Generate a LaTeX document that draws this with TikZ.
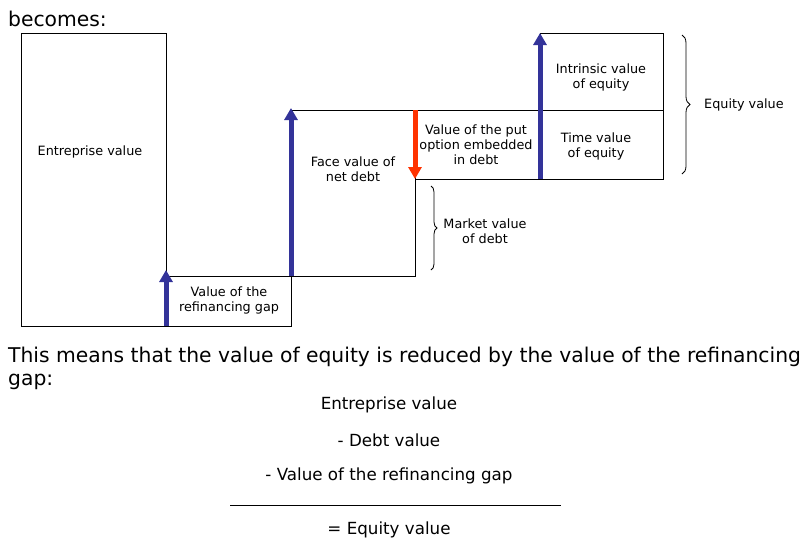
\documentclass[tikz,border=0pt]{standalone}
\usepackage{fontspec}
\setmainfont{DejaVu Sans}
\usetikzlibrary{positioning,arrows.meta,decorations.pathreplacing}
\definecolor{gainblue}{RGB}{51,51,153}
\definecolor{lossred}{RGB}{255,51,0}
\tikzset{
  valuebox/.style={draw=black, line width=1pt, anchor=north west, inner sep=0pt, outer sep=0pt},
  boxtext/.style={align=center, inner sep=0pt, font=\fontsize{12.8}{15}\selectfont},
  bigtext/.style={anchor=west, inner sep=0pt, font=\fontsize{20.3}{24}\selectfont},
  sumtext/.style={inner sep=0pt, font=\fontsize{16.7}{20}\selectfont},
  rise/.style={draw=gainblue, line width=5pt, -{Triangle[width=13pt,length=12pt]}},
  fall/.style={draw=lossred, line width=5pt, -{Triangle[width=13pt,length=12pt]}},
  curly/.style={decorate, decoration={brace, amplitude=#1}, line width=0.8pt},
}
\begin{document}
\begin{tikzpicture}[x=1pt,y=-1pt]
\useasboundingbox (0,0) rectangle (812,550);
% the blocks
\node[valuebox, minimum width=145pt, minimum height=293pt] (entreprise) at (21,33) {};
\node[valuebox, minimum width=125pt, minimum height=50pt] (gap) at (166,276) {};
\node[valuebox, minimum width=124pt, minimum height=166pt] (face) at (291,110) {};
\node[valuebox, minimum width=125pt, minimum height=69pt] (put) at (415,110) {};
\node[valuebox, minimum width=123pt, minimum height=77pt] (intrinsic) at (540,33) {};
\node[valuebox, minimum width=123pt, minimum height=69pt] (timeval) at (540,110) {};
% texts in the blocks
\node[boxtext] (entreprisetext) at (90,152) {Entreprise value};
\node[boxtext] (gaptext) at (229,300) {Value of the\\refinancing gap};
\node[boxtext] (facetext) at (353,169) {Face value of\\net debt};
\node[boxtext] (puttext) at (476,145) {Value of the put\\option embedded\\in debt};
\node[boxtext] (intrinsictext) at (601,77) {Intrinsic value\\of equity};
\node[boxtext] (timetext) at (596,146) {Time value\\of equity};
% the arrows
\draw[rise] (gap.south west) -- ([yshift=6pt]gap.north west);
\draw[rise] (gap.north east) -- ([yshift=2pt]face.north west);
\draw[fall] (put.north west) -- (put.south west);
\draw[rise] (timeval.south west) -- (intrinsic.north west);
% braces
\coordinate (markettop) at (431,186);
\coordinate (marketbottom) at (431,270);
\draw[curly=6pt] (markettop) -- (marketbottom);
\node[boxtext] (markettext) at (485,231) {Market value\\of debt};
\coordinate (equitytop) at (682,35);
\coordinate (equitybottom) at (682,174);
\draw[curly=8pt] (equitytop) -- (equitybottom);
\node[boxtext, anchor=west] (equitytext) at (704,105) {Equity value};
% texts round the picture
\node[bigtext] (becomes) at (8,19) {becomes:};
\node[bigtext] (means) at (8,357) {This means that the value of equity is reduced by the value of the refinancing};
\node[bigtext] (gapword) at (8,382) {gap:};
\node[sumtext] (sumentreprise) at (389,405) {Entreprise value};
\node[sumtext] (sumdebt) at (389,440) {- Debt value};
\node[sumtext] (sumgap) at (389,476) {- Value of the refinancing gap};
\coordinate (ruleleft) at (230,505);
\coordinate (ruleright) at (561,505);
\draw[line width=1pt] (ruleleft) -- (ruleright);
\node[sumtext] (sumequity) at (389,530) {= Equity value};
\end{tikzpicture}
\end{document}
